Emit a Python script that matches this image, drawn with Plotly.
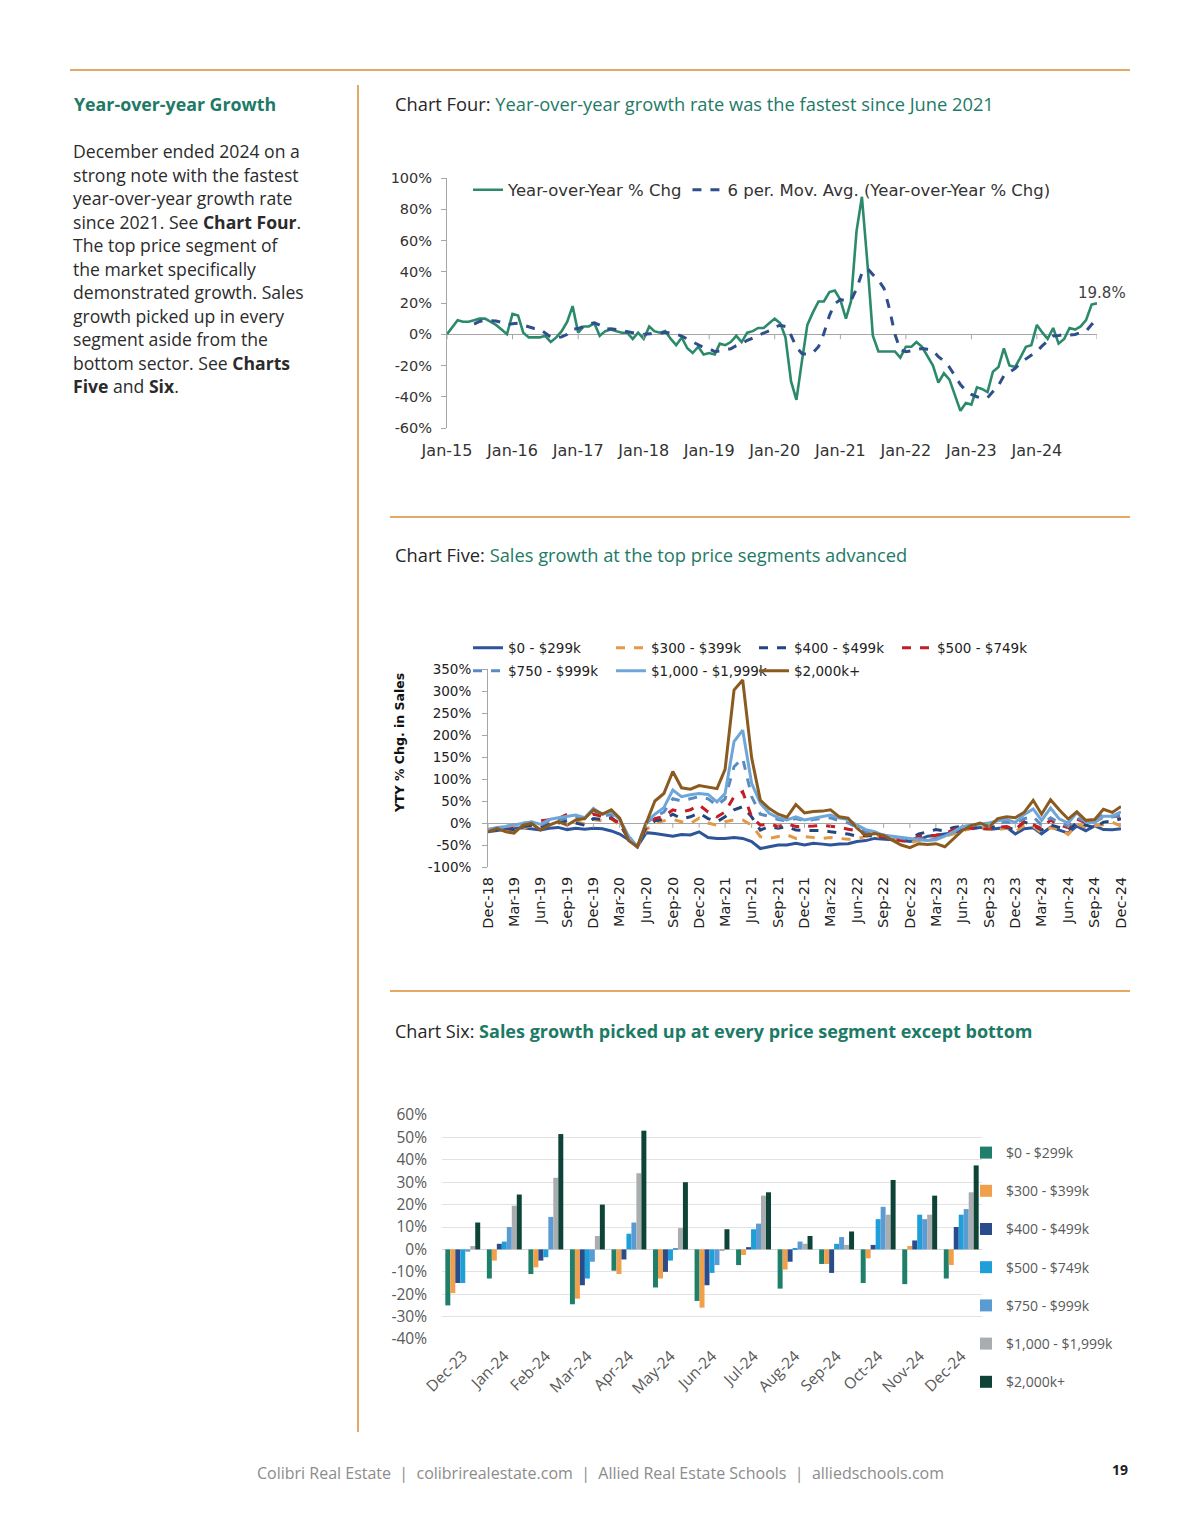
import pandas as pd
import plotly.graph_objects as go

W, H = 1200, 1535


def fx(p):
    return p / W


def fy(p):
    return 1 - p / H


# ---------------- Chart Four data (monthly, Jan-15 .. Dec-24) ----------------
yoy_2015 = [0, 5, 9, 8, 8, 9, 10, 10, 8, 6, 3, 0]
yoy_2016 = [13, 12, 1, -2, -2, -2, -1, -5, -2, 2, 8, 18]
yoy_2017 = [1, 5, 5, 7, -1, 2, 3, 2, 1, 1, -3, 1]
yoy_2018 = [-3, 5, 2, 1, 2, -3, -7, -2, -9, -12, -8, -13]
yoy_2019 = [-12, -13, -6, -7, -5, -1, -5, 1, 2, 4, 4, 7]
yoy_2020 = [10, 7, -2, -30, -42, -17, 6, 14, 21, 21, 27, 28]
yoy_2021 = [22, 10, 21, 66, 88, 45, -1, -11, -11, -11, -11, -15]
yoy_2022 = [-8, -8, -5, -8, -14, -20, -31, -25, -29, -39, -49, -44]
yoy_2023 = [-45, -34, -35, -37, -24, -21, -9, -20, -21, -15, -8, -7]
yoy_2024 = [6, 1, -3, 4, -6, -3, 4, 3, 5, 9, 19, 19.8]
yoy_pct = (yoy_2015 + yoy_2016 + yoy_2017 + yoy_2018 + yoy_2019 +
           yoy_2020 + yoy_2021 + yoy_2022 + yoy_2023 + yoy_2024)
months4 = pd.date_range("2015-01-01", periods=len(yoy_pct), freq="MS")
mov_avg = pd.Series(yoy_pct).rolling(6).mean()  # Excel "6 per. Mov. Avg." trendline
jan_ticks = [d for d in months4 if d.month == 1]
jan_labels = [d.strftime("%b-%y") for d in jan_ticks]
y4_ticks = [-60, -40, -20, 0, 20, 40, 60, 80, 100]

# ---------------- Chart Five data (monthly, Dec-18 .. Dec-24) ----------------
seg_names = ["$0 - $299k", "$300 - $399k", "$400 - $499k", "$500 - $749k",
             "$750 - $999k", "$1,000 - $1,999k", "$2,000k+"]

s0_299 = ([-20] +
          [-17, -14, -12, -11, -13, -16, -12, -10, -15, -12, -14, -12] +
          [-13, -18, -25, -38, -54, -22, -24, -27, -30, -26, -27, -20] +
          [-33, -35, -35, -33, -35, -42, -58, -54, -50, -50, -46, -50] +
          [-46, -48, -50, -48, -47, -42, -40, -35, -36, -38, -40, -42] +
          [-38, -30, -28, -25, -22, -15, -12, -10, -15, -12, -10, -25] +
          [-13, -11, -24.5, -9.5, -17, -23, -7, -17.5, -6.5, -15, -15.5, -13])
s300_399 = ([-18] +
            [-14, -16, -18, -12, -6, -10, -5, 0, 5, 3, -2, 8] +
            [5, 10, -5, -35, -54, -15, 0, 5, 8, 3, -1, 11] +
            [0, -5, 3, 7, 7, -5, -31, -35, -31, -27, -35, -31] +
            [-33, -35, -33, -35, -37, -36, -30, -32, -30, -35, -40, -45] +
            [-40, -38, -36, -30, -25, -18, -12, -10, -14, -15, -12, -19.5] +
            [-5, -8, -22, -11, -13, -26, -2.5, -9, -6.5, -4, 1.5, -7])
s400_499 = ([-18] +
            [-15, -12, -15, -8, -5, -10, -3, 0, 5, 0, -5, 10] +
            [8, 12, -3, -35, -54, -10, 5, 8, 20, 10, 14, 23] +
            [10, 3, 14, 30, 37, 14, -16, -8, -12, -8, -16, -17] +
            [-17, -17, -20, -23, -25, -30, -28, -30, -32, -35, -38, -36] +
            [-25, -20, -15, -18, -10, -8, -10, -12, -10, -8, -10, -15] +
            [2.5, -5, -16, -4.5, -10, -16, 1, -5.5, -10.5, 2, 4, 10])
s500_749 = ([-15] +
            [-12, -10, -8, -5, 2, 5, 8, 10, 20, 15, 10, 20] +
            [15, 10, 0, -35, -54, -5, 10, 15, 30, 25, 30, 41] +
            [25, 14, 25, 60, 71, 14, -5, -2, -8, -2, -8, -8] +
            [-7, -5, -7, -10, -14, -18, -25, -30, -32, -35, -40, -42] +
            [-30, -30, -28, -25, -15, -10, -12, -15, -12, -10, -8, -15] +
            [3.5, -3.5, -13, 7, -5, -10.5, 9, 0.5, 2.5, 13.5, 15.5, 15.5])
s750_999 = ([-16] +
            [-12, -8, -5, 0, 0, -5, 5, 8, 10, 12, 10, 30] +
            [15, 20, 5, -30, -54, 0, 15, 25, 55, 50, 55, 60] +
            [55, 40, 55, 128, 147, 60, 20, 15, 8, 5, 10, 5] +
            [8, 10, 12, 5, 0, -10, -20, -25, -28, -30, -35, -38] +
            [-35, -38, -35, -30, -20, -10, -5, -8, -5, 0, 2, -1] +
            [10, 14.5, -5.5, 12, 0.5, -7, 11.5, 3.5, 5.5, 19, 13.5, 18])
s1000_1999 = ([-15] +
              [-10, -8, -5, 0, 3, -3, 8, 12, 15, 18, 12, 33] +
              [20, 25, 8, -30, -54, 2, 20, 35, 75, 60, 64, 67] +
              [65, 48, 67, 185, 211, 90, 45, 22, 12, 7, 14, 7] +
              [11, 14, 18, 11, 8, -5, -15, -20, -28, -30, -32, -35] +
              [-38, -40, -38, -30, -20, -8, -5, -3, 0, 5, 8, 1.5] +
              [19.5, 32, 6, 34, 9.5, -0.5, 24, 2.5, 2, 15.5, 15.5, 25.5])
s2000_plus = ([-20] +
              [-12, -20, -23, -5, -1, -16, -5, 3, -5, 7, 10, 30] +
              [20, 30, 11, -40, -54, 0, 50, 67, 117, 80, 77, 85] +
              [82, 78, 122, 302, 325, 148, 52, 33, 20, 13, 42, 23] +
              [26, 27, 30, 14, 11, -12, -28, -24, -28, -38, -50, -56] +
              [-47, -49, -47, -54, -35, -17, -6, 0, -9, 10, 14, 12] +
              [24.5, 51.5, 20, 53, 30, 9, 25.5, 6, 8, 31, 24, 37.5])
months5 = pd.date_range("2018-12-01", periods=len(s0_299), freq="MS")
q_ticks = list(months5[::3])
q_labels = [d.strftime("%b-%y") for d in q_ticks]
y5_ticks = [-100, -50, 0, 50, 100, 150, 200, 250, 300, 350]

# ---------------- Chart Six data (Dec-23 .. Dec-24) ----------------
months6 = ["Dec-23", "Jan-24", "Feb-24", "Mar-24", "Apr-24", "May-24", "Jun-24",
           "Jul-24", "Aug-24", "Sep-24", "Oct-24", "Nov-24", "Dec-24"]
b0_299 = [-25, -13, -11, -24.5, -9.5, -17, -23, -7, -17.5, -6.5, -15, -15.5, -13]
b300_399 = [-19.5, -5, -8, -22, -11, -13, -26, -2.5, -9, -6.5, -4, 1.5, -7]
b400_499 = [-15, 2.5, -5, -16, -4.5, -10, -16, 1, -5.5, -10.5, 2, 4, 10]
b500_749 = [-15, 3.5, -3.5, -13, 7, -5, -10.5, 9, 0.5, 2.5, 13.5, 15.5, 15.5]
b750_999 = [-1, 10, 14.5, -5.5, 12, 0.5, -7, 11.5, 3.5, 5.5, 19, 13.5, 18]
b1000_1999 = [1.5, 19.5, 32, 6, 34, 9.5, -0.5, 24, 2.5, 2, 15.5, 15.5, 25.5]
b2000_plus = [12, 24.5, 51.5, 20, 53, 30, 9, 25.5, 6, 8, 31, 24, 37.5]
y6_ticks = [-40, -30, -20, -10, 0, 10, 20, 30, 40, 50, 60]

# ---------------- styles ----------------
TEAL = "#1d7a66"
ORANGE_RULE = "#e4a966"
AXIS_GREY = "#a6a6a6"
CHART_FONT = "DejaVu Sans"
PAGE_FONT = "Open Sans"


def pct_labels(vals):
    return [f"{v}%" for v in vals]


fig = go.Figure()

# Chart Four traces
fig.add_trace(go.Scatter(x=months4, y=yoy_pct, mode="lines", name="Year-over-Year % Chg",
                         line=dict(color="#2b8a6c", width=2.6),
                         xaxis="x", yaxis="y", legend="legend", hoverinfo="skip"))
fig.add_trace(go.Scatter(x=months4, y=mov_avg, mode="lines",
                         name="6 per. Mov. Avg. (Year-over-Year % Chg)",
                         line=dict(color="#2f4e8c", width=3, dash="dash"),
                         xaxis="x", yaxis="y", legend="legend", hoverinfo="skip"))

# Chart Five traces
five_series = [s0_299, s300_399, s400_499, s500_749, s750_999, s1000_1999, s2000_plus]
five_colors = ["#2e5599", "#e39a46", "#24467f", "#c41e24", "#5a8cc2", "#6ea6da", "#8b5a1f"]
five_dash = ["solid", "dash", "dash", "dash", "dash", "solid", "solid"]
five_legend = ["legend2", "legend2", "legend2", "legend2", "legend3", "legend3", "legend3"]
for name, vals, col, dsh, lg in zip(seg_names, five_series, five_colors, five_dash, five_legend):
    fig.add_trace(go.Scatter(x=months5, y=vals, mode="lines", name=name,
                             line=dict(color=col, width=3, dash=dsh),
                             xaxis="x2", yaxis="y2", legend=lg, hoverinfo="skip"))

# Chart Six traces
six_series = [b0_299, b300_399, b400_499, b500_749, b750_999, b1000_1999, b2000_plus]
six_colors = ["#1f7f6b", "#f0a04a", "#2b4c8c", "#1f9fd8", "#5b9bd3", "#a9adb0", "#0e4438"]
for k, (name, vals, col) in enumerate(zip(seg_names, six_series, six_colors)):
    fig.add_trace(go.Bar(x=months6, y=vals, name=name, marker=dict(color=col, line=dict(width=0)),
                         xaxis="x3", yaxis="y3", legend="legend4", legendgroup=f"g{k}",
                         hoverinfo="skip"))

# ---------------- shapes ----------------
shapes = []
# orange rules
shapes.append(dict(type="line", xref="paper", yref="paper", x0=fx(70), x1=fx(1130), y0=fy(70), y1=fy(70),
                   line=dict(color=ORANGE_RULE, width=2)))
shapes.append(dict(type="line", xref="paper", yref="paper", x0=fx(390), x1=fx(1130), y0=fy(517), y1=fy(517),
                   line=dict(color=ORANGE_RULE, width=2)))
shapes.append(dict(type="line", xref="paper", yref="paper", x0=fx(390), x1=fx(1130), y0=fy(991), y1=fy(991),
                   line=dict(color=ORANGE_RULE, width=2)))
shapes.append(dict(type="line", xref="paper", yref="paper", x0=fx(358), x1=fx(358), y0=fy(85), y1=fy(1432),
                   line=dict(color=ORANGE_RULE, width=2)))
# category-axis tick marks on the zero lines
for d in jan_ticks + [months4[-1]]:
    shapes.append(dict(type="line", xref="x", yref="y", x0=d, x1=d, y0=0, y1=-3.2,
                       line=dict(color=AXIS_GREY, width=1)))
for d in q_ticks:
    shapes.append(dict(type="line", xref="x2", yref="y2", x0=d, x1=d, y0=0, y1=-11,
                       line=dict(color=AXIS_GREY, width=1)))

# ---------------- annotations ----------------
ann = []
ann.append(dict(text="<b>Year-over-year Growth</b>", x=fx(72), y=fy(104), xref="paper", yref="paper",
                xanchor="left", yanchor="middle", showarrow=False,
                font=dict(family=PAGE_FONT, size=17.8, color=TEAL)))
body_lines = [
    "December ended 2024 on a",
    "strong note with the fastest",
    "year-over-year growth rate",
    "since 2021. See <b>Chart Four</b>.",
    "The top price segment of",
    "the market specifically",
    "demonstrated growth. Sales",
    "growth picked up in every",
    "segment aside from the",
    "bottom sector. See <b>Charts</b>",
    "<b>Five</b> and <b>Six</b>.",
]
for k, line in enumerate(body_lines):
    ann.append(dict(text=line, x=fx(71), y=fy(151 + k * 23.5), xref="paper", yref="paper",
                    xanchor="left", yanchor="middle", showarrow=False,
                    font=dict(family=PAGE_FONT, size=17.6, color="#2b2b2b")))


def title(label, rest, ypix, bold=False, size=18.3):
    r = f"<b>{rest}</b>" if bold else rest
    return dict(text=f"<span style='color:#262626'>{label}</span> <span style='color:{TEAL}'>{r}</span>",
                x=fx(393), y=fy(ypix), xref="paper", yref="paper", xanchor="left", yanchor="middle",
                showarrow=False, font=dict(family=PAGE_FONT, size=size, color=TEAL))


ann.append(title("Chart Four:", "Year-over-year growth rate was the fastest since June 2021", 104))
ann.append(title("Chart Five:", "Sales growth at the top price segments advanced", 554))
ann.append(title("Chart Six:", "Sales growth picked up at every price segment except bottom", 1031,
                 bold=True, size=18))

ann.append(dict(text=f"{yoy_pct[-1]:.1f}%", x=months4[-1], y=yoy_pct[-1], xref="x", yref="y",
                xanchor="center", yanchor="bottom", yshift=-1, xshift=5, showarrow=False,
                font=dict(family=CHART_FONT, size=15, color="#404040")))
ann.append(dict(text="<b>YTY % Chg. in Sales</b>", x=fx(399), y=fy(743), xref="paper", yref="paper",
                textangle=-90, showarrow=False, xanchor="center", yanchor="middle",
                font=dict(family=CHART_FONT, size=12.5, color="#111111")))
footer = "\u00a0\u00a0|\u00a0\u00a0".join(["Colibri Real Estate", "colibrirealestate.com",
                                           "Allied Real Estate Schools", "alliedschools.com"])
ann.append(dict(text=footer, x=fx(600), y=fy(1473), xref="paper", yref="paper", showarrow=False,
                xanchor="center", yanchor="middle", font=dict(family=PAGE_FONT, size=16, color="#8c8c8c")))
ann.append(dict(text="<b>19</b>", x=fx(1120), y=fy(1469), xref="paper", yref="paper", showarrow=False,
                xanchor="center", yanchor="middle", font=dict(family=PAGE_FONT, size=14, color="#222222")))

ytick4 = dict(family=CHART_FONT, size=14.5, color="#333333")
xtick4 = dict(family=CHART_FONT, size=16, color="#333333")
tickfont5 = dict(family=CHART_FONT, size=13.5, color="#222222")
xtick5 = dict(family=CHART_FONT, size=14.5, color="#222222")
tickfont6 = dict(family=PAGE_FONT, size=15.5, color="#595959")

fig.update_layout(
    width=W, height=H, margin=dict(l=0, r=0, t=0, b=0, pad=0, autoexpand=False),
    paper_bgcolor="white", plot_bgcolor="white",
    showlegend=True, barmode="group", bargap=0.16, bargroupgap=0,
    shapes=shapes, annotations=ann,
    # Chart Four axes
    xaxis=dict(domain=[fx(447), fx(1097)], anchor="y", type="date",
               range=[months4[0], months4[-1]], tickvals=jan_ticks, ticktext=jan_labels,
               showgrid=False, showline=False, ticks="", zeroline=False,
               tickfont=xtick4, ticklabelstandoff=11),
    yaxis=dict(domain=[fy(428), fy(178)], anchor="x", range=[-60, 100],
               tickvals=y4_ticks, ticktext=pct_labels(y4_ticks),
               showgrid=False, showline=True, linecolor=AXIS_GREY, ticks="outside", ticklen=5,
               tickcolor=AXIS_GREY, zeroline=True, zerolinecolor=AXIS_GREY, zerolinewidth=1,
               tickfont=ytick4, ticklabelstandoff=6),
    # Chart Five axes
    xaxis2=dict(domain=[fx(488), fx(1121)], anchor="y2", type="date",
                range=[months5[0], months5[-1]], tickvals=q_ticks, ticktext=q_labels, tickangle=-90,
                showgrid=False, showline=False, ticks="", zeroline=False,
                tickfont=xtick5, ticklabelstandoff=6),
    yaxis2=dict(domain=[fy(867), fy(669)], anchor="x2", range=[-100, 350],
                tickvals=y5_ticks, ticktext=pct_labels(y5_ticks),
                showgrid=False, showline=True, linecolor=AXIS_GREY, ticks="outside", ticklen=5,
                tickcolor=AXIS_GREY, zeroline=True, zerolinecolor=AXIS_GREY, zerolinewidth=1,
                tickfont=tickfont5, ticklabelstandoff=8),
    # Chart Six axes
    xaxis3=dict(domain=[fx(442), fx(982)], anchor="y3", type="category", tickangle=-45,
                showgrid=False, showline=False, ticks="", tickfont=tickfont6, ticklabelstandoff=4),
    yaxis3=dict(domain=[fy(1339), fy(1115)], anchor="x3", range=[-40, 60],
                tickvals=y6_ticks, ticktext=pct_labels(y6_ticks),
                showgrid=True, gridcolor="#e2e2e2", gridwidth=1, showline=False, ticks="",
                zeroline=True, zerolinecolor="#d6d6d6", zerolinewidth=1,
                tickfont=tickfont6, ticklabelstandoff=14),
    legend=dict(orientation="h", x=fx(468), xanchor="left", y=fy(190), yanchor="middle",
                font=dict(family=CHART_FONT, size=16.5, color="#333333"), bgcolor="rgba(0,0,0,0)",
                itemclick=False, itemdoubleclick=False),
    legend2=dict(orientation="h", x=fx(468), xanchor="left", y=fy(648), yanchor="middle",
                 entrywidth=98, entrywidthmode="pixels",
                 font=dict(family=CHART_FONT, size=13.5, color="#222222"), bgcolor="rgba(0,0,0,0)"),
    legend3=dict(orientation="h", x=fx(468), xanchor="left", y=fy(671), yanchor="middle",
                 entrywidth=98, entrywidthmode="pixels",
                 font=dict(family=CHART_FONT, size=13.5, color="#222222"), bgcolor="rgba(0,0,0,0)"),
    legend4=dict(orientation="v", x=fx(966), xanchor="left", y=fy(1137), yanchor="top",
                 tracegroupgap=17, font=dict(family=PAGE_FONT, size=14, color="#595959"),
                 bgcolor="rgba(0,0,0,0)"),
)

fig.write_html("out.html", config={"displayModeBar": False},
               post_script="document.body.style.margin='0px';")
